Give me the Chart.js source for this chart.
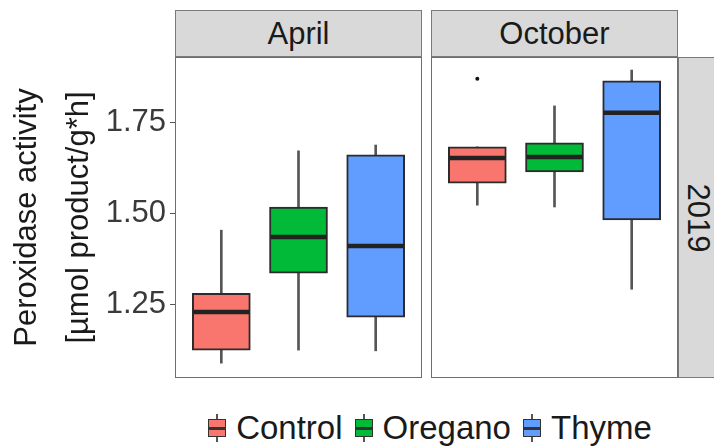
<!DOCTYPE html>
<html>
<head>
<meta charset="utf-8">
<script src="https://cdn.jsdelivr.net/npm/chart.js@4.4.1/dist/chart.umd.min.js"></script>
<style>
  body { margin: 0; width: 714px; height: 446px; overflow: hidden; background: #fff; font-family: "Liberation Sans", Arial, sans-serif; }
  .wrap { position: absolute; }
  .strip { position: absolute; box-sizing: border-box; background: #d9d9d9; border: 1px solid #7a7a7a;
           color: #1a1a1a; font-size: 31px; display: flex; align-items: center; justify-content: center; }
  .strip.side span { transform: rotate(90deg); display: block; }
  #legend { position: absolute; left: 0; top: 410px; width: 860px; height: 36px; display: flex; align-items: center; justify-content: center; font-size: 33px; color: #1a1a1a; }
  .item { display: flex; align-items: center; margin: 0 6px; }
  .key { position: relative; width: 18px; height: 28px; margin-right: 10px; }
  .key .wh { position: absolute; left: 8px; top: 0; width: 2px; height: 28px; background: #555; }
  .key .bx { position: absolute; left: 0; top: 5px; width: 18px; height: 18px; box-sizing: border-box; border: 1.5px solid #333; }
  .key .md { position: absolute; left: 0; top: 12.5px; width: 18px; height: 3px; background: #333; }
</style>
</head>
<body>
<div class="strip" style="left:175px;top:10px;width:247px;height:47px;">April</div>
<div class="strip" style="left:431px;top:10px;width:247px;height:47px;">October</div>
<div class="strip side" style="left:678px;top:57px;width:40px;height:321px;"><span>2019</span></div>
<div class="wrap" style="left:0;top:57px;width:422px;height:321px;"><canvas id="c1"></canvas></div>
<div class="wrap" style="left:431px;top:57px;width:247px;height:321px;"><canvas id="c2"></canvas></div>
<div id="legend"></div>
<script>
const treatments = ['Control', 'Oregano', 'Thyme'];
const fills = ['#F8766D', '#00BA38', '#619CFF'];

// April box statistics (Control, Oregano, Thyme)
const aprilLow    = [1.087, 1.123, 1.121];
const aprilQ1     = [1.123, 1.335, 1.214];
const aprilMedian = [1.228, 1.435, 1.410];
const aprilQ3     = [1.280, 1.518, 1.662];
const aprilHigh   = [1.454, 1.673, 1.689];
const aprilOutliers = [];

// October box statistics
const octLow    = [1.523, 1.518, 1.291];
const octQ1     = [1.584, 1.615, 1.482];
const octMedian = [1.653, 1.656, 1.778];
const octQ3     = [1.684, 1.695, 1.866];
const octHigh   = [1.684, 1.797, 1.896];
const octOutliers = [{ group: 0, value: 1.872 }];

const yTicks = [1.25, 1.50, 1.75];
const yTickLabels = ['1.25', '1.50', '1.75'];
const yMin = 1.046, yMax = 1.932;

const panelBorder = {
  id: 'panelBorder',
  afterDraw(chart) {
    const a = chart.chartArea, ctx = chart.ctx;
    ctx.save();
    ctx.strokeStyle = '#6e6e6e';
    ctx.lineWidth = 1;
    ctx.strokeRect(a.left + 0.5, a.top + 0.5, a.right - a.left - 1, a.bottom - a.top - 1);
    ctx.restore();
  }
};

function makeChart(id, low, q1, med, q3, high, outliers, showAxis) {
  const pts = arr => arr.map((v, i) => ({ x: i, y: v }));
  const range = (a, b) => a.map((v, i) => ({ x: i, y: [v, b[i]] }));
  return new Chart(document.getElementById(id), {
    type: 'bar',
    data: {
      datasets: [
        { type: 'scatter', data: pts(med), pointStyle: 'line', radius: 28, borderWidth: 4.5,
          borderColor: '#222', order: 0 },
        { type: 'scatter', data: outliers.map(o => ({ x: o.group, y: o.value })), radius: 2,
          backgroundColor: '#111', borderWidth: 0, order: 0 },
        { data: range(q1, q3), backgroundColor: fills, borderColor: '#2b2b2b', borderWidth: 2,
          borderSkipped: false, barThickness: 58, grouped: false, order: 1 },
        { data: range(low, high), backgroundColor: '#555', borderWidth: 0,
          barThickness: 2, grouped: false, order: 2 }
      ]
    },
    options: {
      responsive: true,
      maintainAspectRatio: false,
      animation: false,
      layout: { padding: 0, autoPadding: false },
      plugins: { legend: { display: false }, tooltip: { enabled: false } },
      scales: {
        x: { type: 'linear', min: -0.6, max: 2.6, offset: false, display: false },
        y: {
          type: 'linear', min: yMin, max: yMax, display: showAxis,
          afterBuildTicks: s => { s.ticks = yTicks.map(v => ({ value: v })); },
          afterFit: s => {
            if (showAxis) s.width = 175;
            s.paddingTop = 0;
            s.paddingBottom = 0;
          },
          ticks: {
            callback: (v) => yTickLabels[yTicks.indexOf(v)] ?? '',
            color: '#3a3a3a', padding: 4,
            font: { family: 'Liberation Sans', size: 31 }
          },
          grid: { display: true, drawOnChartArea: false, drawTicks: true, tickLength: 5, color: '#555' },
          border: { display: false },
          title: {
            display: true,
            text: ['Peroxidase activity', '[µmol product/g*h]'],
            color: '#1a1a1a',
            padding: { top: 1, bottom: 0 },
            font: { family: 'Liberation Sans', size: 31, lineHeight: 52 / 31 }
          }
        }
      }
    },
    plugins: [panelBorder]
  });
}

makeChart('c1', aprilLow, aprilQ1, aprilMedian, aprilQ3, aprilHigh, aprilOutliers, true);
makeChart('c2', octLow, octQ1, octMedian, octQ3, octHigh, octOutliers, false);

const legend = document.getElementById('legend');
treatments.forEach((t, i) => {
  const item = document.createElement('div');
  item.className = 'item';
  item.innerHTML = '<div class="key"><div class="wh"></div><div class="bx" style="background:' + fills[i] +
    '"></div><div class="md"></div></div><span>' + t + '</span>';
  legend.appendChild(item);
});
</script>
</body>
</html>
